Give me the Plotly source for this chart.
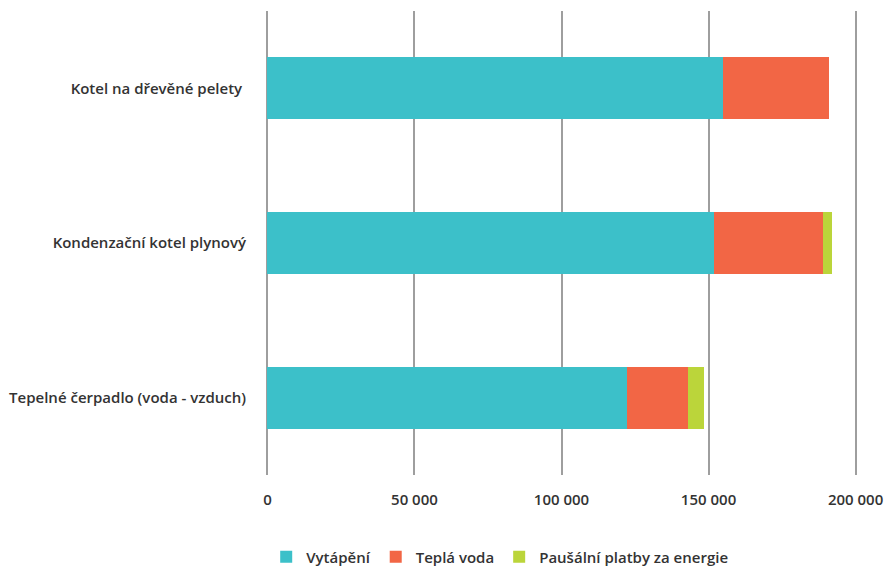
import plotly.graph_objects as go

categories = ["Kotel na dřevěné pelety ", "Kondenzační kotel plynový", "Tepelné čerpadlo (voda - vzduch)"]
vytapeni = [155000, 151800, 122300]
tepla_voda = [36000, 37200, 20700]
pausalni = [0, 3000, 5500]
tick_vals = [0, 50000, 100000, 150000, 200000]

series = [
    ("Vytápění", vytapeni, "#3cc0c9"),
    ("Teplá voda", tepla_voda, "#f26645"),
    ("Paušální platby za energie", pausalni, "#bbd53a"),
]

fig = go.Figure()
for name, vals, col in series:
    fig.add_trace(go.Bar(
        y=categories, x=vals, name=name, orientation="h",
        marker=dict(color=col, line=dict(width=0)),
        hoverinfo="x+name",
    ))

font = dict(family="Open Sans", size=15, color="#333333", weight=600)

fig.update_layout(
    barmode="stack",
    bargap=0.6,
    width=886, height=567,
    margin=dict(l=263, r=26, t=11, b=92, autoexpand=False),
    paper_bgcolor="white", plot_bgcolor="white",
    separators=", ",
    font=font,
    showlegend=True,
    legend=dict(orientation="h", x=0.564, xanchor="center", xref="container",
                y=0.0176, yanchor="middle", yref="container",
                font=font, itemwidth=30, traceorder="normal", itemsizing="constant"),
    xaxis=dict(range=[-1500, 201500], tickvals=tick_vals, tickformat=",d",
               showgrid=True, gridcolor="#9e9e9e", gridwidth=1.5,
               zeroline=False, showline=False, ticks="", ticklabelstandoff=14,
               tickfont=font, automargin=False),
    yaxis=dict(categoryorder="array", categoryarray=categories, autorange="reversed",
               showgrid=False, zeroline=False, showline=False, ticks="",
               ticklabelstandoff=16, tickfont=font, automargin=False),
)

fig.write_html("out.html")
